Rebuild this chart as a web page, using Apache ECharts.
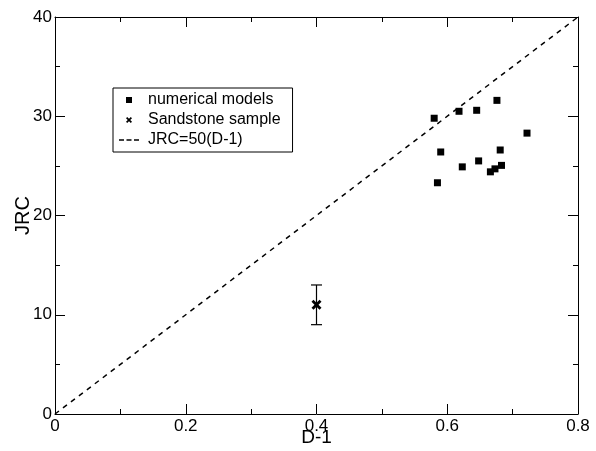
<!DOCTYPE html>
<html><head><meta charset="utf-8">
<script src="https://cdn.jsdelivr.net/npm/echarts@6/dist/echarts.min.js"></script>
<style>html,body{margin:0;padding:0;background:#fff}#c{width:596px;height:451px}</style>
</head><body><div id="c"></div>
<script>
const modelX = [0.580, 0.618, 0.645, 0.676, 0.722, 0.590, 0.681, 0.648, 0.623, 0.683, 0.673, 0.666, 0.585];
const modelY = [29.8, 30.5, 30.6, 31.6, 28.3, 26.4, 26.6, 25.5, 24.9, 25.05, 24.7, 24.4, 23.3];
const sampleX = [0.4];
const sampleY = [11];
const sampleLow = [9];
const sampleHigh = [13];
const lineX = [0, 0.8];
const lineY = [0, 40];
const FONT = 'Liberation Sans';

const chart = echarts.init(document.getElementById('c'), null, {renderer: 'canvas'});
const xSpec = (show) => ({
  type: 'value', min: 0, max: 0.8, interval: 0.2,
  name: show ? 'D-1' : '', nameLocation: 'middle', nameGap: 14, nameMoveOverlap: false,
  nameTextStyle: {fontFamily: FONT, fontSize: 19, color: '#000'},
  axisLine: {show: true, onZero: false, lineStyle: {color: '#000', width: 1}},
  axisTick: {show: true, inside: true, length: 10, lineStyle: {color: '#000'}},
  minorTick: {show: true, splitNumber: 2, length: 5, lineStyle: {color: '#000'}},
  axisLabel: {show: show, fontFamily: FONT, fontSize: 17, color: '#000', margin: 4,
    formatter: v => v === 0 ? '0' : String(+v.toFixed(1))},
  splitLine: {show: false}
});
const ySpec = (show) => ({
  type: 'value', min: 0, max: 40, interval: 10,
  name: show ? 'JRC' : '', nameLocation: 'middle', nameGap: 22, nameRotate: 90, nameMoveOverlap: false,
  nameTextStyle: {fontFamily: FONT, fontSize: 20, color: '#000'},
  axisLine: {show: true, onZero: false, lineStyle: {color: '#000', width: 1}},
  axisTick: {show: true, inside: true, length: 10, lineStyle: {color: '#000'}},
  minorTick: {show: true, splitNumber: 2, length: 5, lineStyle: {color: '#000'}},
  axisLabel: {show: show, fontFamily: FONT, fontSize: 17, color: '#000', margin: 3},
  splitLine: {show: false}
});
const xMark = 'path://M0,2L2,0L5,3L8,0L10,2L7,5L10,8L8,10L5,7L2,10L0,8L3,5Z';
const sqIcon = 'path://M0,0h6v6h-6z';
const dashIcon = 'path://M0,0h5v1.3h-5zM7.5,0h5v1.3h-5zM15,0h5v1.3h-5z';

chart.setOption({
  animation: false,
  grid: {left: 55, right: 18, top: 17, bottom: 37, containLabel: false, outerBoundsMode: 'none'},
  xAxis: [Object.assign(xSpec(true), {position: 'bottom'}), Object.assign(xSpec(false), {position: 'top'})],
  yAxis: [Object.assign(ySpec(true), {position: 'left'}), Object.assign(ySpec(false), {position: 'right'})],
  legend: {
    orient: 'vertical', left: 113, top: 88,
    data: [
      {name: 'numerical models', icon: sqIcon},
      {name: 'Sandstone sample', icon: xMark},
      {name: 'JRC=50(D-1)', icon: dashIcon}
    ],
    itemWidth: 20, itemHeight: 6, itemGap: 4,
    borderColor: '#000', borderWidth: 1, padding: [4, 12, 4, 6],
    textStyle: {fontFamily: FONT, fontSize: 16, color: '#000', padding: [0,0,0,4]},
    backgroundColor: '#fff'
  },
  series: [
    {
      name: 'JRC=50(D-1)', type: 'line', symbol: 'none',
      data: lineX.map((x, i) => [x, lineY[i]]),
      lineStyle: {color: '#000', width: 1.5, type: [5, 5]},
      itemStyle: {color: '#000'}, z: 1
    },
    {
      name: 'numerical models', type: 'scatter', symbol: 'rect', symbolSize: 7,
      data: modelX.map((x, i) => [x, modelY[i]]),
      itemStyle: {color: '#000', opacity: 1}, z: 3
    },
    {
      name: 'errbar', type: 'custom',
      data: sampleX.map((x, i) => [x, sampleLow[i], sampleHigh[i]]),
      renderItem: (params, api) => {
        const lo = api.coord([api.value(0), api.value(1)]);
        const hi = api.coord([api.value(0), api.value(2)]);
        const w = 5.5;
        const st = {stroke: '#000', lineWidth: 1.2};
        return {type: 'group', children: [
          {type: 'line', shape: {x1: lo[0], y1: lo[1], x2: hi[0], y2: hi[1]}, style: st},
          {type: 'line', shape: {x1: lo[0]-w, y1: lo[1], x2: lo[0]+w, y2: lo[1]}, style: st},
          {type: 'line', shape: {x1: hi[0]-w, y1: hi[1], x2: hi[0]+w, y2: hi[1]}, style: st}
        ]};
      }, z: 2
    },
    {
      name: 'Sandstone sample', type: 'scatter', symbol: xMark, symbolSize: 10,
      data: sampleX.map((x, i) => [x, sampleY[i]]),
      itemStyle: {color: '#000', opacity: 1}, z: 4
    }
  ]
});
</script></body></html>
